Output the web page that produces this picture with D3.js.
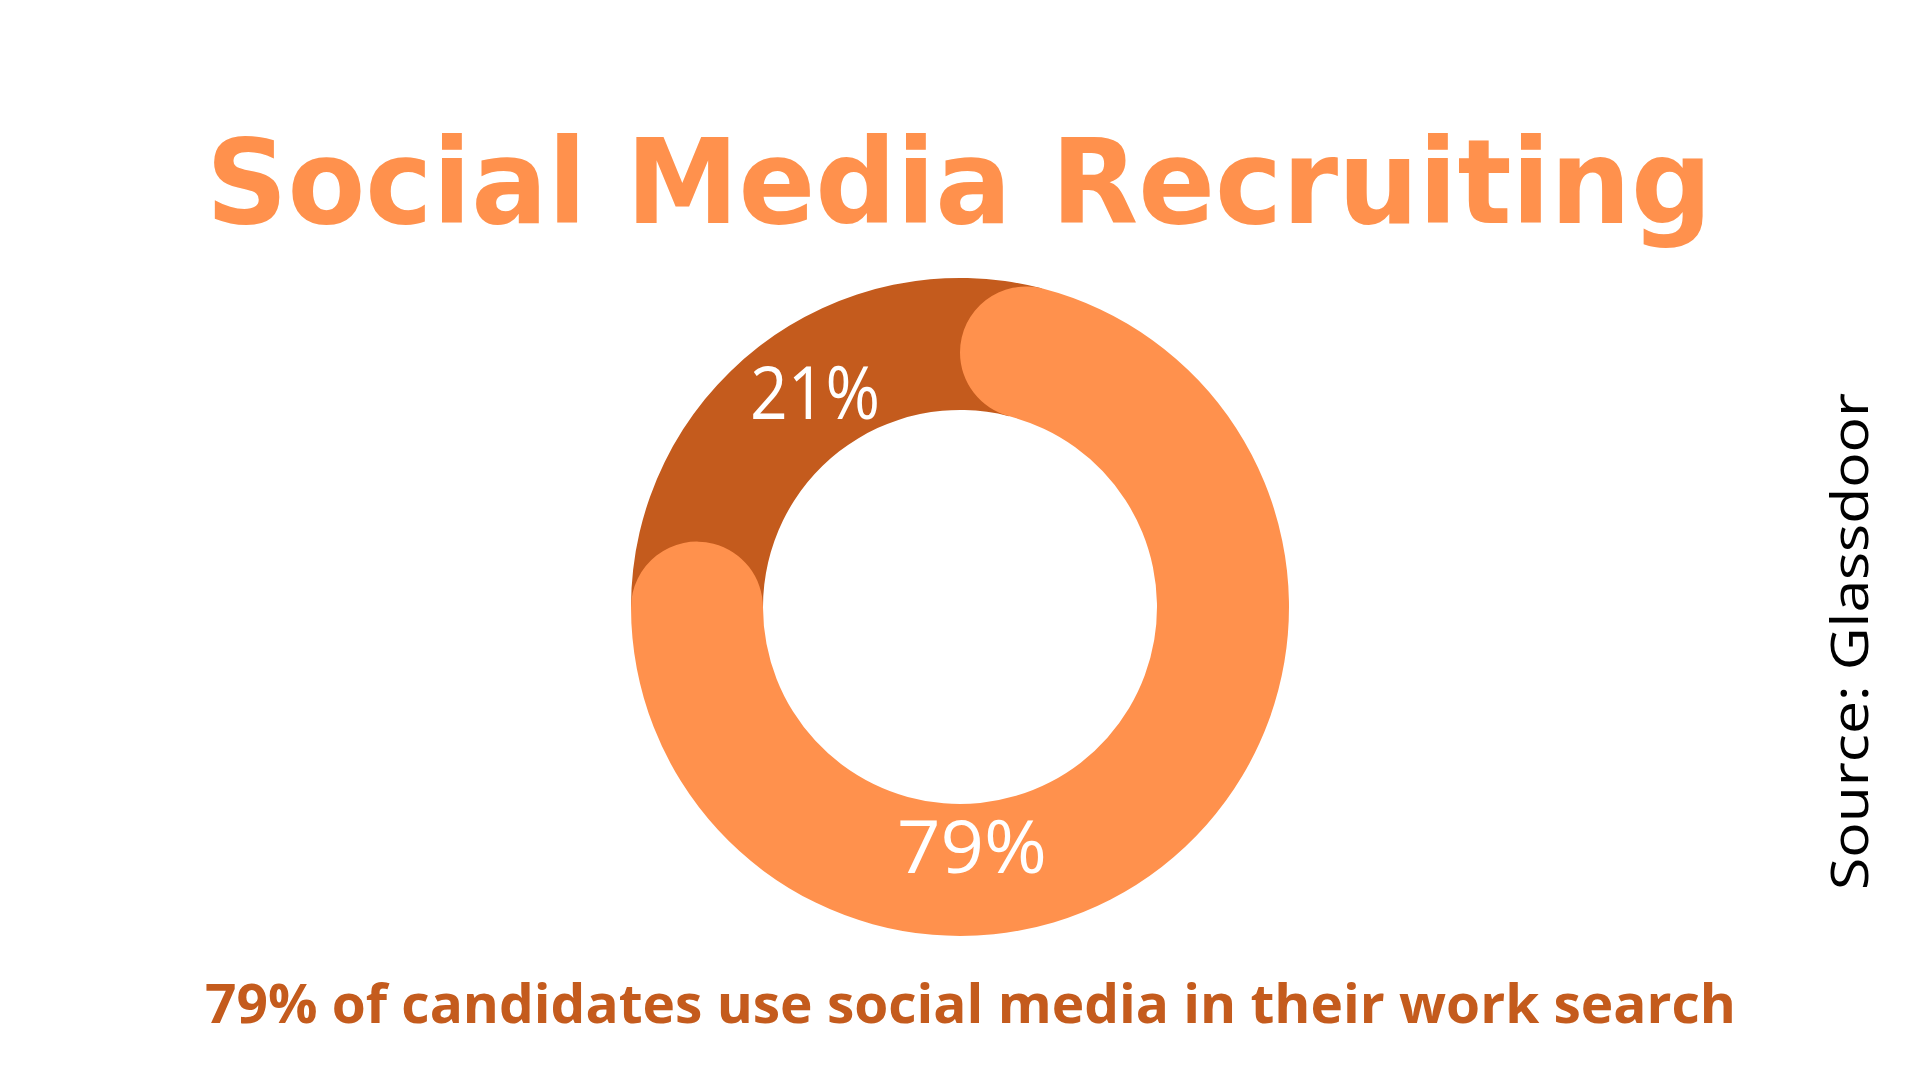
<!DOCTYPE html>
<html>
<head>
<meta charset="utf-8">
<script src="https://cdn.jsdelivr.net/npm/d3@7"></script>
<style>
  html, body { margin: 0; padding: 0; background: #ffffff; }
  svg { display: block; }
  text { font-variant-ligatures: none; font-feature-settings: "liga" 0, "clig" 0; }
</style>
</head>
<body>
<svg id="chart" width="1920" height="1080"></svg>
<script>
// ---- data ----
const categories = ["Use social media", "Do not"];
const values = [79, 21];
const labels = ["79%", "21%"];
const title = "Social Media Recruiting";
const subtitle = "79% of candidates use social media in their work search";
const source = "Source: Glassdoor";

// ---- style ----
const colors = ["#FF914D", "#C45B1D"];
const W = 1920, H = 1080;
const cx = 960, cy = 607;
const outerR = 329, innerR = 197;
const thick = outerR - innerR;
const midR = (outerR + innerR) / 2;
const capAngle = (thick / 2) / midR;

const svg = d3.select("#chart");
svg.append("rect").attr("width", W).attr("height", H).attr("fill", "#fff");

function fitText(sel, width) {
  sel.attr("textLength", width).attr("lengthAdjust", "spacingAndGlyphs");
}

// title
svg.append("text")
  .attr("x", 206).attr("y", 223)
  .attr("font-family", "'DejaVu Sans', sans-serif")
  .attr("font-weight", 700)
  .attr("font-size", 118)
  .attr("fill", "#FF914D")
  .text(title)
  .call(fitText, 1506);

// donut
const pie = d3.pie().sort(null).value(d => d)(values);
const g = svg.append("g").attr("transform", `translate(${cx},${cy})`);

// dark segment drawn underneath, extended beneath the rounded caps
const arcPlain = d3.arc().innerRadius(innerR).outerRadius(outerR);
const dark = pie[1];
g.append("path")
  .attr("d", arcPlain({startAngle: dark.startAngle - capAngle, endAngle: dark.endAngle + capAngle}))
  .attr("fill", colors[1]);

// main segment with round ends
const arcRound = d3.arc().innerRadius(innerR).outerRadius(outerR).cornerRadius(thick / 2);
g.append("path")
  .attr("d", arcRound(pie[0]))
  .attr("fill", colors[0]);

// labels
const labelPos = [[972, 873, 150], [815, 419, 130]];
labels.forEach((t, i) => {
  svg.append("text")
    .attr("x", labelPos[i][0]).attr("y", labelPos[i][1])
    .attr("text-anchor", "middle")
    .attr("font-family", "'Open Sans', 'Noto Sans', sans-serif")
    .attr("font-weight", 400)
    .attr("font-size", 73)
    .attr("fill", "#ffffff")
    .text(t)
    .call(fitText, labelPos[i][2]);
});

// subtitle
svg.append("text")
  .attr("x", 205).attr("y", 1023)
  .attr("font-family", "'Open Sans', 'Noto Sans', sans-serif")
  .attr("font-weight", 700)
  .attr("font-size", 53)
  .attr("fill", "#C45B1D")
  .text(subtitle)
  .call(fitText, 1531);

// source (rotated)
svg.append("text")
  .attr("transform", "translate(1868,890) rotate(-90)")
  .attr("x", 0).attr("y", 0)
  .attr("font-family", "'Open Sans', 'Noto Sans', sans-serif")
  .attr("font-weight", 400)
  .attr("font-size", 52)
  .attr("fill", "#000000")
  .text(source)
  .call(fitText, 497);
</script>
</body>
</html>
